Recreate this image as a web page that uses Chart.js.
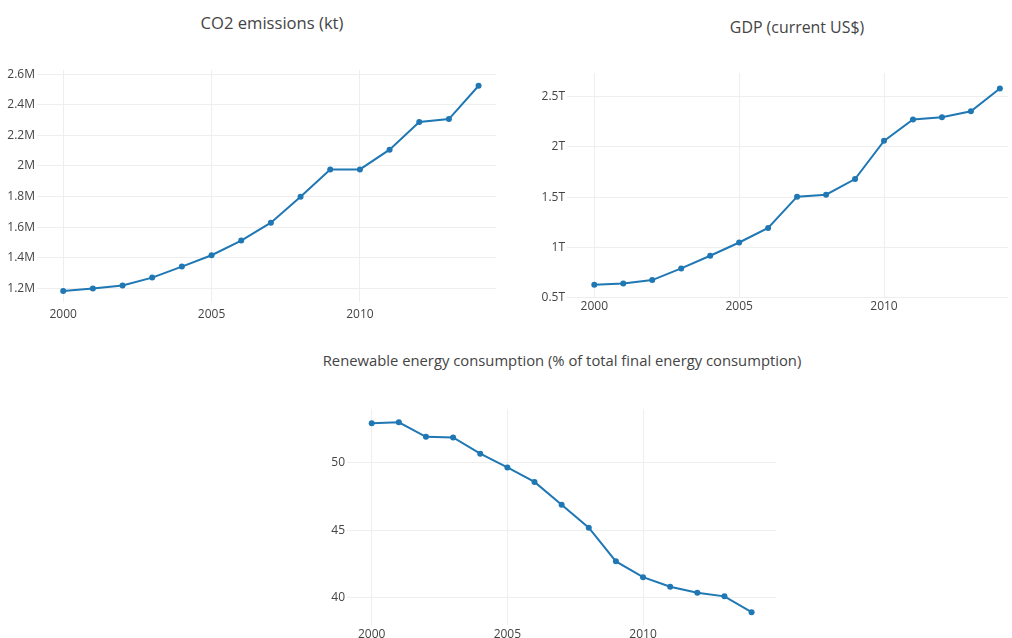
<!DOCTYPE html>
<html>
<head>
<meta charset="utf-8">
<script src="https://cdn.jsdelivr.net/npm/chart.js@4.4.0/dist/chart.umd.min.js"></script>
<style>
  html, body { margin: 0; padding: 0; background: #fff; overflow: hidden; }
  body { width: 1012px; height: 638px; position: relative; font-family: "Open Sans", sans-serif; }
  .box { position: absolute; }
  .title { position: absolute; color: #444; white-space: nowrap; transform: translate(-50%, -50%); }
</style>
</head>
<body>
<div class="title" style="left:272px; top:22px; font-size:16.6px;">CO2 emissions (kt)</div>
<div class="title" style="left:797px; top:27px; font-size:15.9px;">GDP (current US$)</div>
<div class="title" style="left:562px; top:360px; font-size:14.8px;">Renewable energy consumption (% of total final energy consumption)</div>

<div class="box" style="left:0px; top:60px; width:500px; height:272px;"><canvas id="co2Chart"></canvas></div>
<div class="box" style="left:500px; top:60px; width:512px; height:268px;"><canvas id="gdpChart"></canvas></div>
<div class="box" style="left:300px; top:400px; width:480px; height:255px;"><canvas id="renewChart"></canvas></div>

<script>
var years = [2000, 2001, 2002, 2003, 2004, 2005, 2006, 2007, 2008, 2009, 2010, 2011, 2012, 2013, 2014];
var co2Kt = [1182600, 1198000, 1218000, 1270000, 1342000, 1416000, 1512000, 1629000, 1799000, 1977000, 1977000, 2106000, 2287000, 2306000, 2524000];
var gdpUsd = [629e9, 642e9, 675e9, 791e9, 917e9, 1049e9, 1194e9, 1505e9, 1525e9, 1680e9, 2060e9, 2272e9, 2295e9, 2355e9, 2580e9];
var renewPct = [52.93, 53.0, 51.93, 51.88, 50.68, 49.66, 48.59, 46.90, 45.20, 42.71, 41.54, 40.83, 40.39, 40.12, 38.95];

var yearTicks = [2000, 2005, 2010];
var co2Ticks = [1.2e6, 1.4e6, 1.6e6, 1.8e6, 2e6, 2.2e6, 2.4e6, 2.6e6];
var gdpTicks = [0.5e12, 1e12, 1.5e12, 2e12, 2.5e12];
var renewTicks = [40, 45, 50];

var lineColor = '#1f77b4';
var gridColor = '#eeeeee';
var tickFont = { family: 'Open Sans', size: 12 };

function toPoints(vals) {
	return years.map(function(y, i) {
		return { x: y, y: vals[i] };
	});
}

function setTicks(list) {
	return function(scale) {
		scale.ticks = list.map(function(v) { return { value: v }; });
	};
}

function drawLine(id, vals, cfg) {
	var ctx = document.getElementById(id).getContext('2d');
	return new Chart(ctx, {
		type : 'line',
		data : {
			datasets : [ {
				data : toPoints(vals),
				borderColor : lineColor,
				backgroundColor : lineColor,
				borderWidth : 2,
				pointRadius : 3,
				pointBorderWidth : 0,
				tension : 0
			} ]
		},
		options : {
			responsive : true,
			maintainAspectRatio : false,
			animation : false,
			layout : { padding : cfg.padding },
			plugins : { legend : { display : false }, tooltip : { enabled : false } },
			scales : {
				x : {
					type : 'linear',
					min : cfg.xMin,
					max : cfg.xMax,
					afterBuildTicks : setTicks(yearTicks),
					afterFit : function(scale) { scale.height = cfg.xHeight; },
					grid : { color : gridColor, drawTicks : false },
					border : { display : false },
					ticks : { color : '#444', font : tickFont, padding : cfg.xPad, maxRotation : 0,
						callback : function(v) { return String(v); } }
				},
				y : {
					min : cfg.yMin,
					max : cfg.yMax,
					afterBuildTicks : setTicks(cfg.yTicks),
					afterFit : function(scale) { scale.width = cfg.yWidth; },
					grid : { color : gridColor, drawTicks : false },
					border : { display : false },
					ticks : { color : '#444', font : tickFont, padding : 2, callback : cfg.fmt }
				}
			}
		}
	});
}

drawLine('co2Chart', co2Kt, {
	padding : { top : 10, right : 2, left : 0, bottom : 0 },
	xMin : 1999.117, xMax : 2014.587, xHeight : 30, xPad : 5,
	yMin : 1.1105e6, yMax : 2.627e6, yTicks : co2Ticks, yWidth : 37,
	fmt : function(v) { return Number((v / 1e6).toFixed(1)) + 'M'; }
});

drawLine('gdpChart', gdpUsd, {
	padding : { top : 13, right : 4, left : 0, bottom : 0 },
	xMin : 1999.058, xMax : 2014.28, xHeight : 30, xPad : 1,
	yMin : 0.497e12, yMax : 2.735e12, yTicks : gdpTicks, yWidth : 67,
	fmt : function(v) { return Number((v / 1e12).toFixed(1)) + 'T'; }
});

drawLine('renewChart', renewPct, {
	padding : { top : 7, right : 3, left : 0, bottom : 0 },
	xMin : 1999.09, xMax : 2014.9, xHeight : 30, xPad : 2,
	yMin : 38.0, yMax : 53.97, yTicks : renewTicks, yWidth : 47,
	fmt : function(v) { return String(v); }
});
</script>
</body>
</html>
